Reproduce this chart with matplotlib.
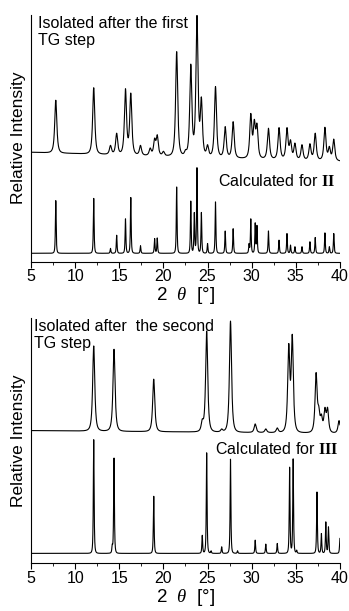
import numpy as np
import matplotlib.pyplot as plt

plt.rcParams['font.family'] = ['Liberation Sans', 'DejaVu Sans']
plt.rcParams['mathtext.fontset'] = 'custom'
plt.rcParams['mathtext.bf'] = 'Liberation Serif:bold'
plt.rcParams['mathtext.it'] = 'Liberation Serif:italic'
plt.rcParams['mathtext.rm'] = 'Liberation Sans'

# peak positions (2 theta) and heights
exp2_pos = [7.8, 12.1, 14.0, 14.7, 15.7, 16.3, 17.4, 18.5, 19.0, 19.3, 20.0, 21.5, 22.5,
            23.1, 23.8, 24.3, 25.0, 25.9, 27.0, 27.9, 29.9, 30.3, 30.6, 31.9, 33.1, 34.0,
            34.4, 34.9, 35.7, 36.6, 37.2, 38.3, 38.8, 39.3]
exp2_h = [490, 528, 353, 390, 525, 512, 353, 345, 375, 385, 335, 638, 340,
          600, 748, 500, 355, 532, 410, 425, 450, 432, 420, 405, 407, 407,
          370, 360, 355, 358, 390, 408, 350, 372]
exp2_base = [332, 305]

calc2_pos = [7.8, 12.1, 14.0, 14.7, 15.7, 16.3, 17.4, 19.0, 19.3, 21.5, 23.1, 23.5, 23.8,
             24.3, 25.0, 25.9, 27.0, 27.9, 29.7, 29.9, 30.4, 30.6, 31.9, 33.1, 34.0, 34.4,
             34.9, 35.7, 36.6, 37.2, 38.3, 38.8, 39.3]
calc2_h = [185, 192, 40, 80, 130, 195, 48, 70, 72, 228, 185, 150, 287,
           150, 55, 182, 93, 100, 55, 130, 118, 110, 93, 65, 85, 50,
           45, 45, 60, 73, 87, 45, 85]
calc2_base = [25, 25]

exp3_pos = [12.1, 14.4, 18.9, 24.4, 24.9, 26.6, 27.6, 30.4, 31.6, 32.9, 34.2, 34.6,
            37.3, 37.6, 37.9, 38.3, 38.6, 39.9]
exp3_h = [655, 645, 555, 435, 700, 405, 730, 420, 405, 408, 662, 690,
          575, 475, 450, 470, 470, 430]
exp3_base = [400, 392]

calc3_pos = [12.1, 14.2, 14.4, 18.9, 24.4, 24.9, 25.4, 26.6, 27.6, 28.4, 30.4, 31.6,
             32.9, 34.3, 34.7, 35.1, 37.4, 37.9, 38.4, 38.7, 40.0]
calc3_h = [373, 58, 318, 203, 85, 335, 38, 50, 315, 38, 70, 58,
           60, 290, 315, 40, 215, 90, 125, 110, 75]
calc3_base = [30, 30]

x = np.linspace(5, 40, 3500)


def pattern(pos, h, base, w):
    pos = np.array(pos)
    h = np.array(h, float)
    b = np.interp(pos, [5, 40], base)
    prof = lambda xx, p: 1.0 / (1.0 + ((xx[:, None] - p[None, :]) / (w / 2)) ** 2) ** 1.5
    A = prof(pos, pos)
    amp = np.linalg.solve(A, h - b)
    return np.interp(x, [5, 40], base) + prof(x, pos) @ amp


def panel(ax, ytop):
    ax.set_xlim(5, 40)
    ax.set_ylim(0, ytop)
    ax.spines['top'].set_visible(False)
    ax.spines['right'].set_visible(False)
    ax.set_yticks([])
    ax.set_xticks(range(5, 41, 5))
    ax.set_xticks(np.arange(7.5, 40, 5), minor=True)
    ax.tick_params(axis='x', direction='out', length=4, labelsize=11.5, pad=1.5)
    ax.tick_params(axis='x', which='minor', direction='out', length=2)
    ax.set_xlabel(r'2  $\it{\theta}$  [°]', fontsize=13.5, labelpad=0.5)
    ax.set_ylabel('Relative Intensity', fontsize=12.5, labelpad=4)


fig = plt.figure(figsize=(3.49, 6.11), dpi=100)
ax1 = fig.add_axes([0.089, 0.572, 0.885, 0.404])
ax2 = fig.add_axes([0.089, 0.078, 0.885, 0.402])

ax1.plot(x, pattern(exp2_pos, exp2_h, exp2_base, 0.36), color='black', lw=0.8)
ax1.plot(x, pattern(calc2_pos, calc2_h, calc2_base, 0.13), color='black', lw=0.8)
panel(ax1, 750)
ax1.text(0.023, 0.995, 'Isolated after the first\nTG step', transform=ax1.transAxes,
         ha='left', va='top', fontsize=11.5, linespacing=1.15)
ax1.text(0.984, 0.327, r'Calculated for $\mathbf{II}$', transform=ax1.transAxes,
         ha='right', va='center', fontsize=11.5)

ax2.plot(x, pattern(exp3_pos, exp3_h, exp3_base, 0.36), color='black', lw=0.8)
ax2.plot(x, pattern(calc3_pos, calc3_h, calc3_base, 0.13), color='black', lw=0.8)
panel(ax2, 740)
ax2.text(0.01, 0.995, 'Isolated after  the second\nTG step', transform=ax2.transAxes,
         ha='left', va='top', fontsize=11.5, linespacing=1.15)
ax2.text(0.995, 0.466, r'Calculated for $\mathbf{III}$', transform=ax2.transAxes,
         ha='right', va='center', fontsize=11.5)

fig.savefig('out.png', dpi=100)
